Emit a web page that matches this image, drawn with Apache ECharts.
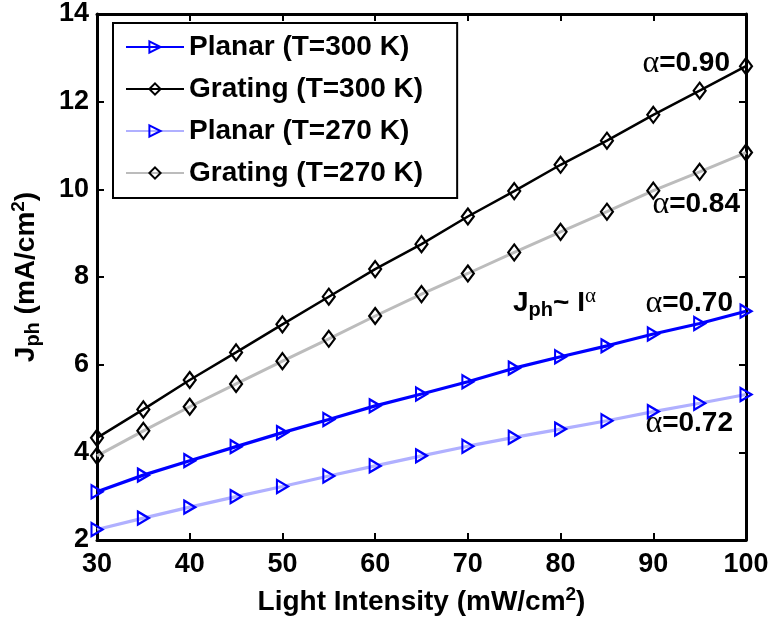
<!DOCTYPE html>
<html>
<head>
<meta charset="utf-8">
<script src="https://cdn.jsdelivr.net/npm/echarts@6/dist/echarts.min.js"></script>
<style>html,body{margin:0;padding:0;background:#fff}#c{width:774px;height:624px}</style>
</head>
<body>
<div id="c"></div>
<script>
const intensity = [30,35,40,45,50,55,60,65,70,75,80,85,90,95,100];
const planar300  = [3.10,3.48,3.81,4.13,4.45,4.75,5.06,5.33,5.61,5.92,6.18,6.43,6.70,6.94,7.22];
const grating300 = [4.33,4.98,5.65,6.28,6.92,7.55,8.18,8.75,9.38,9.96,10.56,11.11,11.70,12.25,12.81];
const planar270  = [2.24,2.50,2.75,2.99,3.22,3.46,3.69,3.92,4.14,4.34,4.53,4.72,4.93,5.12,5.32];
const grating270 = [3.92,4.49,5.04,5.56,6.08,6.59,7.11,7.61,8.08,8.56,9.03,9.49,9.97,10.40,10.84];
const seriesNames = ['Planar (T=300 K)','Grating (T=300 K)','Planar (T=270 K)','Grating (T=270 K)'];
const alphaLabels = ['0.70','0.90','0.72','0.84'];
const xTicks = {min:30, max:100, interval:10};
const yTicks = {min:2, max:14, interval:2};

const SANS = '"Liberation Sans", Arial, sans-serif';
const SERIF = '"Liberation Serif", "DejaVu Serif", serif';
const pairs = arr => intensity.map((x,i)=>[x, arr[i]]);
const triRight = 'path://M0,0 L10,6 L0,12 Z';

const chart = echarts.init(document.getElementById('c'), null, {renderer:'canvas'});

function mkSeries(name, data, lineColor, lineWidth, symbol, symSize, edge){
  return {
    name, type:'line', data: pairs(data), clip:false,
    symbol, symbolSize: symSize, showSymbol:true,
    lineStyle:{color:lineColor, width:lineWidth},
    itemStyle:{color:'rgba(0,0,0,0)', borderColor:edge, borderWidth:2.2},
    emphasis:{disabled:true}
  };
}

const option = {
  animation:false,
  backgroundColor:'#fff',
  textStyle:{fontFamily:SANS},
  grid:{left:97, right:28, top:14, bottom:84},
  legend:{
    orient:'vertical', left:113, top:23,
    data: seriesNames,
    itemWidth:58, itemHeight:14, itemGap:12,
    padding:[9,34,10,12],
    borderColor:'#000', borderWidth:2, backgroundColor:'#fff',
    textStyle:{fontSize:28, fontWeight:'bold', fontFamily:SANS, color:'#000', lineHeight:30},
    selectedMode:false
  },
  xAxis:[{
    type:'value', min:xTicks.min, max:xTicks.max, interval:xTicks.interval,
    axisLine:{lineStyle:{color:'#000', width:3}},
    axisTick:{inside:true, length:7, lineStyle:{color:'#000', width:2}},
    axisLabel:{margin:11, fontSize:27, fontWeight:'bold', fontFamily:SANS, color:'#000'},
    splitLine:{show:false},
    name:'{a|Light Intensity (mW/cm}{p|2}{a|)}',
    nameLocation:'middle', nameGap:45,
    nameTextStyle:{rich:{
      a:{fontSize:28, fontWeight:'bold', fontFamily:SANS, color:'#000', lineHeight:34},
      p:{fontSize:19, fontWeight:'bold', fontFamily:SANS, color:'#000', lineHeight:10, verticalAlign:'top'}
    }}
  },{
    type:'value', position:'top', min:xTicks.min, max:xTicks.max, interval:xTicks.interval,
    axisLine:{lineStyle:{color:'#000', width:3}},
    axisTick:{inside:true, length:7, lineStyle:{color:'#000', width:2}},
    axisLabel:{show:false}, splitLine:{show:false}
  }],
  yAxis:[{
    type:'value', min:yTicks.min, max:yTicks.max, interval:yTicks.interval,
    axisLine:{lineStyle:{color:'#000', width:3}},
    axisTick:{inside:true, length:7, lineStyle:{color:'#000', width:2}},
    axisLabel:{margin:8, fontSize:27, fontWeight:'bold', fontFamily:SANS, color:'#000'},
    splitLine:{show:false},
    name:'{a|J}{s|ph}{a| (mA/cm}{p|2}{a|)}',
    nameLocation:'middle', nameGap:54, nameRotate:90,
    nameTextStyle:{rich:{
      a:{fontSize:28, fontWeight:'bold', fontFamily:SANS, color:'#000', lineHeight:34},
      s:{fontSize:20, fontWeight:'bold', fontFamily:SANS, color:'#000', lineHeight:16, verticalAlign:'bottom'},
      p:{fontSize:19, fontWeight:'bold', fontFamily:SANS, color:'#000', lineHeight:10, verticalAlign:'top'}
    }}
  },{
    type:'value', position:'right', min:yTicks.min, max:yTicks.max, interval:yTicks.interval,
    axisLine:{lineStyle:{color:'#000', width:3}},
    axisTick:{inside:true, length:7, lineStyle:{color:'#000', width:2}},
    axisLabel:{show:false}, splitLine:{show:false}
  }],
  series:[
    mkSeries(seriesNames[0], planar300, '#0000ff', 3.2, triRight, [11,13], '#0000ff'),
    mkSeries(seriesNames[1], grating300, '#000000', 2.5, 'diamond', [12,16], '#000000'),
    mkSeries(seriesNames[2], planar270, '#b0b0ff', 3.2, triRight, [11,13], '#0000ff'),
    mkSeries(seriesNames[3], grating270, '#bcbcbc', 3, 'diamond', [12,16], '#000000')
  ]
};
chart.setOption(option);

// annotations anchored to the last data point of each curve
const last = intensity.length - 1;
const anchors = [
  {arr:planar300,  dx:-13, dy:-8,  lab:alphaLabels[0]},
  {arr:grating300, dx:-16, dy:-3,  lab:alphaLabels[1]},
  {arr:planar270,  dx:-13, dy:29,  lab:alphaLabels[2]},
  {arr:grating270, dx:-6,  dy:52,  lab:alphaLabels[3]}
];
const richA = {
  g:{fontSize:32, fontFamily:SERIF, color:'#000', lineHeight:34},
  b:{fontSize:28, fontWeight:'bold', fontFamily:SANS, color:'#000', lineHeight:34}
};
const graphics = anchors.map(a=>{
  const p = chart.convertToPixel({xAxisIndex:0, yAxisIndex:0}, [intensity[last], a.arr[last]]);
  return {type:'text', x:p[0]+a.dx, y:p[1]+a.dy, z:100,
    style:{text:'{g|α}{b|=' + a.lab + '}', rich:richA, align:'right', verticalAlign:'middle'}};
});
graphics.push({type:'text', x:513, y:303, z:100,
  style:{text:'{a|J}{s|ph}{a|~ I}{g|α}', align:'left', verticalAlign:'middle', rich:{
    a:{fontSize:28, fontWeight:'bold', fontFamily:SANS, color:'#000', lineHeight:34},
    s:{fontSize:20, fontWeight:'bold', fontFamily:SANS, color:'#000', lineHeight:16, verticalAlign:'bottom'},
    g:{fontSize:21, fontFamily:SERIF, color:'#000', lineHeight:12, verticalAlign:'top'}
  }}});
chart.setOption({graphic:graphics});
</script>
</body>
</html>
